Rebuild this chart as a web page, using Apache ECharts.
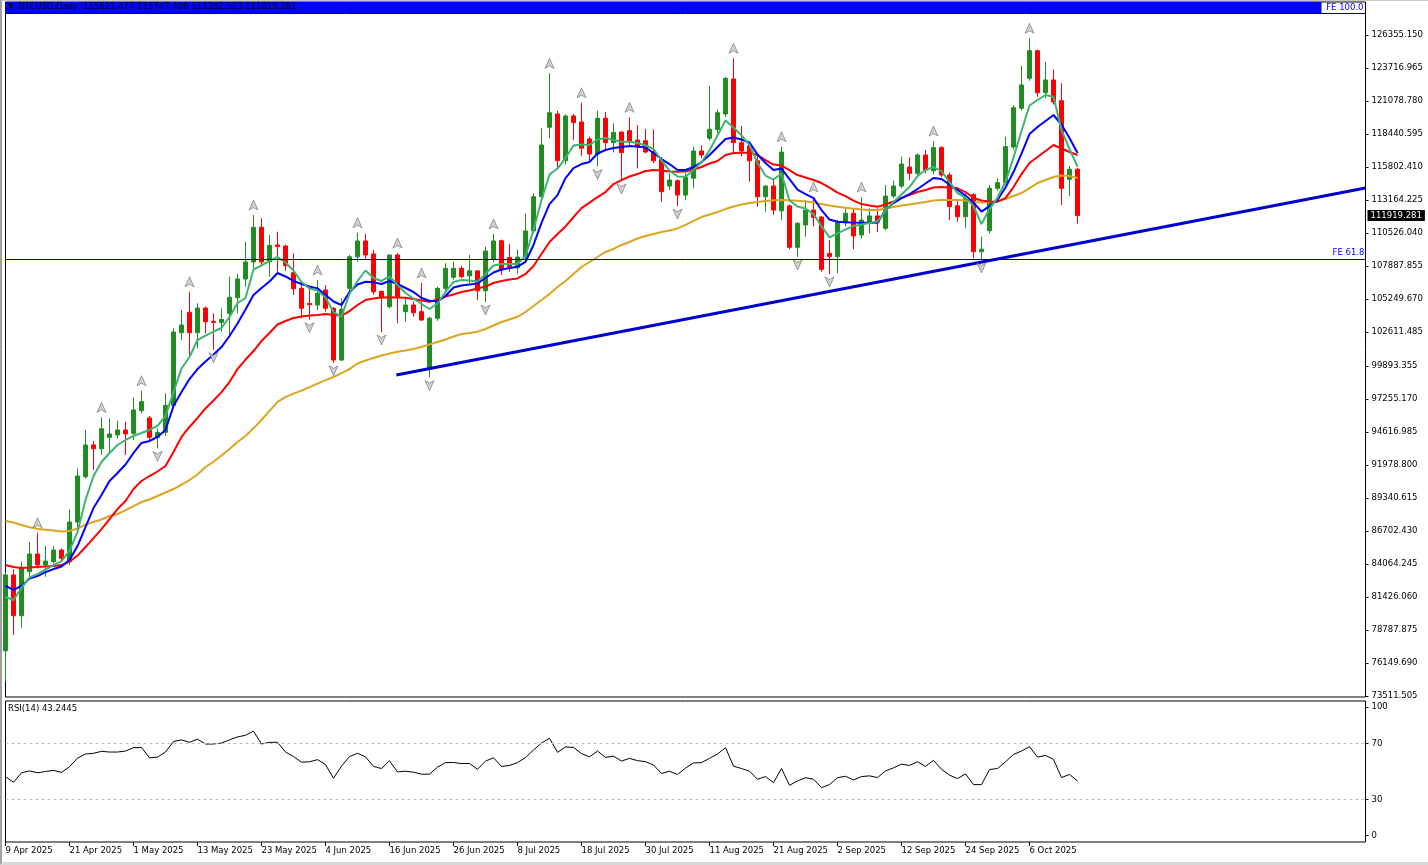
<!DOCTYPE html>
<html><head><meta charset="utf-8">
<script src="https://cdn.jsdelivr.net/npm/echarts@6/dist/echarts.min.js"></script>
<style>
html,body{margin:0;padding:0;background:#fff;}
#c{width:1428px;height:865px;}
#frame{position:absolute;left:0;top:0;width:1428px;height:865px;box-sizing:border-box;border-left:2px solid #a0a0a0;border-top:1px solid #c8c8c8;border-bottom:3px solid #d8d8d8;pointer-events:none;}
</style>
</head><body><div id="c"></div><div id="frame"></div>
<script>
const dates = ('9 Apr 2025|10 Apr 2025|11 Apr 2025|14 Apr 2025|15 Apr 2025|16 Apr 2025|17 Apr 2025|18 Apr 2025|21 Apr 2025|22 Apr 2025|23 Apr 2025|24 Apr 2025|25 Apr 2025|28 Apr 2025|29 Apr 2025|30 Apr 2025|' +
 '1 May 2025|2 May 2025|5 May 2025|6 May 2025|7 May 2025|8 May 2025|9 May 2025|12 May 2025|13 May 2025|14 May 2025|15 May 2025|16 May 2025|19 May 2025|20 May 2025|21 May 2025|22 May 2025|23 May 2025|26 May 2025|27 May 2025|28 May 2025|29 May 2025|30 May 2025|' +
 '2 Jun 2025|3 Jun 2025|4 Jun 2025|5 Jun 2025|6 Jun 2025|9 Jun 2025|10 Jun 2025|11 Jun 2025|12 Jun 2025|13 Jun 2025|16 Jun 2025|17 Jun 2025|18 Jun 2025|19 Jun 2025|20 Jun 2025|23 Jun 2025|24 Jun 2025|25 Jun 2025|26 Jun 2025|27 Jun 2025|30 Jun 2025|' +
 '1 Jul 2025|2 Jul 2025|3 Jul 2025|4 Jul 2025|7 Jul 2025|8 Jul 2025|9 Jul 2025|10 Jul 2025|11 Jul 2025|14 Jul 2025|15 Jul 2025|16 Jul 2025|17 Jul 2025|18 Jul 2025|21 Jul 2025|22 Jul 2025|23 Jul 2025|24 Jul 2025|25 Jul 2025|28 Jul 2025|29 Jul 2025|30 Jul 2025|31 Jul 2025|' +
 '1 Aug 2025|4 Aug 2025|5 Aug 2025|6 Aug 2025|7 Aug 2025|8 Aug 2025|11 Aug 2025|12 Aug 2025|13 Aug 2025|14 Aug 2025|15 Aug 2025|18 Aug 2025|19 Aug 2025|20 Aug 2025|21 Aug 2025|22 Aug 2025|25 Aug 2025|26 Aug 2025|27 Aug 2025|28 Aug 2025|29 Aug 2025|' +
 '1 Sep 2025|2 Sep 2025|3 Sep 2025|4 Sep 2025|5 Sep 2025|8 Sep 2025|9 Sep 2025|10 Sep 2025|11 Sep 2025|12 Sep 2025|15 Sep 2025|16 Sep 2025|17 Sep 2025|18 Sep 2025|19 Sep 2025|22 Sep 2025|23 Sep 2025|24 Sep 2025|25 Sep 2025|26 Sep 2025|29 Sep 2025|30 Sep 2025|' +
 '1 Oct 2025|2 Oct 2025|3 Oct 2025|6 Oct 2025|7 Oct 2025|8 Oct 2025|9 Oct 2025|10 Oct 2025|13 Oct 2025|14 Oct 2025').split('|');

const open = [77130,83190,79930,83450,84860,83990,84250,85180,84250,87420,
91040,93580,93280,94190,94380,94780,94510,96320,95740,94190,
94590,96750,102560,104190,102560,104530,103460,103380,104100,105360,
106850,108210,110980,108230,109570,109490,107350,106100,104900,104770,
105970,104510,100370,106100,108630,109890,108850,105860,104640,108770,
104240,104770,104240,99710,103710,106100,106990,107700,107100,107500,
105910,108450,109910,108580,107750,108600,110690,113430,118980,120040,
116310,119880,119400,118040,116840,119700,117750,118600,118710,117960,
117900,117000,116400,114280,114710,113560,114900,117080,118100,118800,
120040,122840,117750,117500,116300,113430,114280,112300,112700,109380,
111170,112360,111800,108900,108650,111350,112100,110370,111400,111890,
110900,113480,114280,115800,115300,116760,115500,117350,115160,112700,
111830,113600,109030,110710,114100,114550,117400,120500,122900,125100,
121740,122760,121100,114820,115621.477];

const high = [83400,83640,84250,85830,86570,85500,85500,85300,88440,91710,
94780,93900,95790,95700,95520,95440,97390,97920,95900,94910,
97710,102910,104370,105830,104900,104640,104100,104500,107030,107250,
109830,111960,111700,110370,110630,109600,108900,106500,106100,106770,
106370,104600,105310,108770,110550,110450,109170,105900,108800,108930,
105430,105050,106530,103840,106250,108100,108230,107900,108770,107550,
109430,110450,110000,109650,109200,112100,113700,118900,123290,120300,
120000,120040,120940,118230,120300,120200,119300,118650,119780,119160,
118850,118800,116600,115300,114800,115300,117420,117530,122280,120400,
123020,124490,119080,117500,116900,114360,114760,117430,112800,111400,
113160,113400,111900,109970,111560,112500,112500,113400,112500,112500,
114360,114710,116640,116570,116890,117160,117880,117460,115350,113160,
113700,113700,110230,114360,114900,118230,120760,123880,126090,125200,
124200,123600,122500,115880,115747.406];

const low = [74660,78390,78970,83050,83700,83050,84100,84300,84000,87000,
90900,91580,92780,92940,94120,92780,93980,96100,93900,93310,
94300,96500,101970,100770,101300,102520,101200,102640,102350,104100,
106230,107700,107970,107030,107430,107500,105570,103700,103600,104370,
104240,100150,100300,105800,108230,108370,105600,102610,104500,103310,
103440,103840,103500,98970,103500,105900,106800,106900,106500,105170,
105010,108200,107170,107430,107300,108400,110500,113200,118100,115700,
116000,117960,116700,116240,115840,117130,116970,114680,117430,115700,
116900,116100,113030,113960,112680,113170,114100,116500,117900,118500,
119800,117000,116650,114650,112630,112230,111970,111560,109230,108610,
110230,111040,107430,107250,107300,111040,109230,110100,110500,110600,
110750,113300,114100,114760,115100,115300,115200,115000,111560,111440,
110900,108500,108370,110500,113900,114400,117200,120300,122700,121400,
121300,120800,112770,113480,111282.523];

const close = [83190,79930,83800,84860,83990,84300,85180,84520,87420,91100,
93580,93280,94880,94460,94780,94460,96380,97040,94190,94590,
96750,102610,103170,102560,104530,103430,103380,103620,105390,106850,
108210,110980,108210,109540,109440,107910,106070,104510,104800,105700,
104510,100370,104430,108630,109890,108770,105830,105360,108770,105430,
104770,104150,103570,103710,106100,107700,107700,107030,107500,105910,
109090,109890,107570,107830,108600,110690,113430,117560,120140,116310,
119880,119350,117300,116840,119700,117750,118570,116950,117830,117380,
117000,116300,113830,114760,113560,114980,117080,116760,118820,120140,
122890,117750,117080,116300,113430,114280,112360,117000,109380,111300,
112360,111780,107620,108650,111350,112100,110290,111560,111890,111400,
113480,114280,116040,115300,116760,115560,117350,115160,112630,111830,
113300,109030,109230,114100,114550,117430,120540,122360,125100,121740,
122760,121000,114100,115620,111919.281];

// moving averages
const maGreen = [81430,81190,82150,82990,83260,83620,83980,84300,85140,86620,
89180,91100,92220,92940,93580,93980,94300,94540,94780,95100,
95900,97810,99690,100610,101970,102330,102650,102930,103810,104930,
105330,107610,107930,108290,108610,108170,107530,106610,106090,105930,
105370,104210,103850,105650,106690,107530,106930,106690,107050,106370,
105730,105290,104850,104450,104890,105810,106610,106770,106730,106650,
107250,107930,108050,108050,108050,108690,110770,113160,115200,115680,
116520,117520,117600,117560,118000,118120,117960,117820,117820,117720,
117540,117240,116360,115520,115040,115030,115560,116200,117120,118320,
119520,118960,118320,117560,116120,115120,114800,115280,113120,112640,
112480,112040,111080,110170,110490,110810,111080,111200,111320,111440,
112320,113000,113600,114200,115080,115560,115800,115480,114600,113720,
113360,112680,111240,112440,113360,114600,116560,118680,120720,121160,
121560,121420,118760,117240,115830];

const maBlue = [82310,81990,82310,82900,83100,83420,83660,83860,84380,85500,
87020,88540,89580,90700,91340,92020,92940,93740,93900,94220,
94780,96700,97810,98850,99650,100250,100810,101410,102290,103290,
104410,105570,106130,106650,107330,107050,106690,106450,106250,106100,
105570,105050,104770,105810,106410,106630,106580,106450,106690,106450,
106130,105810,105330,105110,105060,105490,106170,106330,106410,106500,
106930,107370,107610,107730,107830,108210,109570,111330,112840,113560,
114920,115720,116040,116200,116880,117160,117320,117400,117480,117440,
117360,116920,116440,116040,115560,115560,115800,116200,116760,117400,
118040,118160,118000,117760,116800,116120,115560,115680,114840,114000,
113640,113320,112360,111600,111430,111390,111360,111350,111350,111350,
112360,112920,113320,113640,114040,114480,114920,114840,114400,113960,
113520,112960,112240,112680,113160,114160,115400,116880,118440,119000,
119480,119960,119200,118120,116920];

const maRed = [83980,83820,83740,83780,83820,83860,83900,83980,84250,84740,
85420,86140,86860,87660,88460,89100,90060,90700,91100,91460,
91900,93020,94220,95020,95740,96500,97140,97810,98610,99650,
100410,101090,101890,102530,103210,103490,103730,103850,103930,103970,
104050,103970,103930,104290,104770,105170,105290,105370,105390,105370,
105350,105250,105130,105030,105210,105450,105610,105810,105930,106090,
106250,106530,106690,106810,106890,107250,107890,108850,109810,110450,
111050,111800,112520,112960,113400,113800,114440,114760,115040,115240,
115480,115560,115520,115440,115430,115440,115600,115800,116080,116280,
116760,116920,116940,116950,116760,116360,116000,115920,115560,115160,
114960,114760,114520,114160,113760,113480,113120,112840,112720,112630,
112800,113040,113320,113560,113800,113960,114160,114200,114160,114100,
113800,113320,113120,113040,113030,113320,114200,115240,116120,116600,
117080,117560,117280,117000,116760];

const maGold = [87500,87380,87180,87000,86880,86810,86740,86660,86700,86900,
87220,87420,87620,87900,88060,88380,88700,89020,89220,89500,
89780,90060,90420,90780,91220,91820,92240,92740,93260,93820,
94300,94910,95580,96300,97020,97410,97690,97930,98210,98490,
98770,99010,99330,99650,100090,100330,100530,100730,100890,101040,
101130,101250,101410,101610,101810,102010,102250,102450,102530,102640,
102850,103130,103410,103610,103830,104210,104690,105170,105650,106210,
106690,107250,107810,108210,108610,109010,109250,109570,109810,110090,
110290,110450,110610,110730,110890,111170,111490,111800,112000,112200,
112440,112640,112800,112920,113000,113080,113150,113160,113140,113110,
113040,112960,112840,112720,112630,112550,112470,112400,112360,112360,
112480,112600,112720,112800,112900,113000,113120,113160,113160,113160,
113120,113000,112960,113000,113040,113240,113480,113720,114120,114520,
114760,115000,115120,115080,114920];

const rsi = [46.3,42.4,49.1,50.4,49.1,50.0,50.8,49.4,53.4,59.5,
62.4,62.9,64.3,63.8,63.8,64.5,66.9,67.0,59.7,60.2,
63.8,71.3,72.4,70.7,72.9,69.5,69.5,70.2,72.4,74.5,
75.7,78.6,69.5,70.7,70.7,63.8,60.6,56.6,56.9,58.4,
54.9,45.2,53.8,60.6,62.9,60.4,53.6,52.1,57.6,49.7,
50.2,49.5,48.1,48.1,53.1,56.3,56.4,55.6,55.7,51.6,
57.4,59.7,53.6,54.3,56.3,59.9,65.2,70.2,73.6,63.6,
67.4,67.1,62.7,60.4,64.5,60.0,60.9,57.4,59.3,57.7,
57.0,54.6,48.6,50.2,47.9,52.4,56.1,56.3,59.3,62.4,
66.9,53.8,52.1,50.2,44.5,46.4,42.1,52.1,40.2,43.3,
45.6,44.5,38.6,40.7,45.6,46.6,44.0,46.4,46.9,45.7,
50.4,52.6,55.2,54.3,56.9,53.6,57.9,51.6,47.4,45.0,
48.3,40.7,40.7,51.4,52.1,56.9,62.1,64.5,67.6,60.2,
61.4,58.6,45.7,47.9,43.2445];

const fractalUp = [4,12,17,23,31,39,44,49,52,61,68,72,78,91,97,101,107,116,128];
const fractalDown = [19,26,38,41,47,53,60,74,77,84,99,103,122];

const priceTicks = [73511.505,76149.690,78787.875,81426.060,84064.245,86702.430,89340.615,91978.800,94616.985,97255.170,99893.355,
  102611.485,105249.670,107887.855,110526.040,113164.225,115802.410,118440.595,121078.780,123716.965,126355.150];
const dateTicks = [0,8,16,24,32,40,48,56,64,72,80,88,96,104,112,120,128];
const rsiLevels = [30,70];
const rsiAxisLabels = [[4.5,'0'],[30,'30'],[70,'70'],[95.7,'100']];
const feLevels = [['FE 61.8',108447],['FE 100.0',128114]];
const trendline = [[48.85,99170],[170,114120]];

const Y_MIN = 73433.3, Y_MAX = 128993.1, X_MAX = 170;
const FONT = "'DejaVu Sans', Verdana, sans-serif";
const FS = 8.5;
const n = close.length - 1;

const candleData = dates.map((d,i)=>[i, open[i], close[i], low[i], high[i]]);
const maLine = (arr, color) => ({
  type:'line', xAxisIndex:0, yAxisIndex:0, data: arr.map((v,i)=>[i,v]),
  symbol:'none', silent:true, z:3, lineStyle:{color, width:2}
});

const chart = echarts.init(document.getElementById('c'), null, {renderer:'canvas'});
chart.setOption({
  animation:false,
  backgroundColor:'#fff',
  title:[
    {text:'{t|▼}  BTCUSD,Daily  ' + [open[n],high[n],low[n],close[n]].map(v=>v.toFixed(3)).join(' '),
     left:8, top:2, padding:0,
     textStyle:{fontFamily:FONT, fontSize:FS, fontWeight:'normal', color:'#000', rich:{t:{fontSize:7, color:'#000', fontFamily:FONT}}}},
    {text:'RSI(14) ' + rsi[n].toFixed(4), left:8, top:704, padding:0,
     textStyle:{fontFamily:FONT, fontSize:FS, fontWeight:'normal', color:'#000'}}
  ],
  grid:[
    {left:5.5, width:1360, top:2, height:695, show:true, borderColor:'#000', borderWidth:1, backgroundColor:'#fff'},
    {left:5.5, width:1360, top:701, height:141, show:true, borderColor:'#000', borderWidth:1, backgroundColor:'#fff'}
  ],
  xAxis:[
    {type:'value', gridIndex:0, min:0, max:X_MAX, show:false, axisLine:{onZero:false}},
    {type:'value', gridIndex:1, min:0, max:X_MAX, interval:8,
     axisLine:{show:false, onZero:false}, splitLine:{show:false},
     axisTick:{show:true, length:4, customValues:dateTicks, lineStyle:{color:'#000'}},
     axisLabel:{customValues:dateTicks, formatter:v=>dates[v]||'', align:'left', margin:4,
       fontFamily:FONT, fontSize:FS, color:'#000'}}
  ],
  yAxis:[
    {type:'value', gridIndex:0, position:'right', min:Y_MIN, max:Y_MAX, scale:true,
     splitLine:{show:false}, axisLine:{show:false, onZero:false},
     axisTick:{show:true, length:3, customValues:priceTicks, lineStyle:{color:'#000'}},
     axisLabel:{customValues:priceTicks, formatter:v=>v.toFixed(3), margin:6, fontFamily:FONT, fontSize:FS, color:'#000'}},
    {type:'value', gridIndex:1, position:'right', min:0, max:100,
     splitLine:{show:false}, axisLine:{show:false, onZero:false},
     axisTick:{show:true, length:3, customValues:rsiAxisLabels.map(a=>a[0]), lineStyle:{color:'#000'}},
     axisLabel:{customValues:rsiAxisLabels.map(a=>a[0]),
       formatter:v=>{const f=rsiAxisLabels.find(a=>Math.abs(a[0]-v)<0.01);return f?f[1]:'';},
       margin:6, fontFamily:FONT, fontSize:FS, color:'#000'}}
  ],
  series:[
    {type:'candlestick', xAxisIndex:0, yAxisIndex:0, data:candleData, barWidth:4, z:2, silent:true,
     itemStyle:{color:'#228b22', color0:'#ff0000', borderColor:'#228b22', borderColor0:'#ff0000', borderWidth:1},
     markArea:{silent:true, itemStyle:{color:'#0000ff', opacity:1},
       data:[[{xAxis:0, yAxis:feLevels[1][1]},{xAxis:164.5, yAxis:Y_MAX}]]},
     markLine:{silent:true, symbol:['none','none'], animation:false, data:[
       {yAxis:feLevels[0][1], lineStyle:{color:'#000080', width:1, type:'solid'},
        label:{show:true, position:'insideEndTop', distance:[1,2], formatter:feLevels[0][0], color:'#0000ff', fontFamily:FONT, fontSize:FS}},
       {yAxis:feLevels[1][1], lineStyle:{color:'#000080', width:1, type:'solid'},
        label:{show:true, position:'insideEndTop', distance:[1,1], formatter:feLevels[1][0], color:'#0000ff', fontFamily:FONT, fontSize:FS, backgroundColor:'#fff', padding:[0,1,0,3]}}
     ]}},
    maLine(maGold,'#daa520'),
    maLine(maRed,'#ff0000'),
    maLine(maBlue,'#0000ff'),
    maLine(maGreen,'#3cb371'),
    {type:'line', xAxisIndex:0, yAxisIndex:0, data:trendline, symbol:'none', silent:true, z:4,
     lineStyle:{color:'#0000cd', width:3},
     markLine:{silent:true, symbol:['none','none'], animation:false,
       lineStyle:{color:'rgba(0,0,0,0)', width:1, type:'solid'},
       data:[{yAxis:close[n],
        label:{show:true, position:'end', distance:2, formatter:close[n].toFixed(3), color:'#fff', backgroundColor:'#000',
          padding:[1,3,1,3], fontFamily:FONT, fontSize:FS}}]}},
    {type:'scatter', xAxisIndex:0, yAxisIndex:0, data:fractalUp.map(i=>[i,high[i]]), silent:true, z:5,
     symbol:'path://M5,0 L10,10 L5,7.5 L0,10 Z', symbolSize:[9,10], symbolOffset:[0,-10],
     itemStyle:{color:'#c4c4c4', borderColor:'#6e6e6e', borderWidth:0.8}},
    {type:'scatter', xAxisIndex:0, yAxisIndex:0, data:fractalDown.map(i=>[i,low[i]]), silent:true, z:5,
     symbol:'path://M5,10 L10,0 L5,2.5 L0,0 Z', symbolSize:[9,10], symbolOffset:[0,8],
     itemStyle:{color:'#c4c4c4', borderColor:'#6e6e6e', borderWidth:0.8}},
    {type:'line', xAxisIndex:1, yAxisIndex:1, data:rsi.map((v,i)=>[i,v]), symbol:'none', silent:true,
     lineStyle:{color:'#000', width:1},
     markLine:{silent:true, symbol:['none','none'], label:{show:false},
       lineStyle:{color:'#c0c0c0', type:[3,3], width:1},
       data:rsiLevels.map(v=>({yAxis:v}))}}
  ]
});
</script>
</body></html>
